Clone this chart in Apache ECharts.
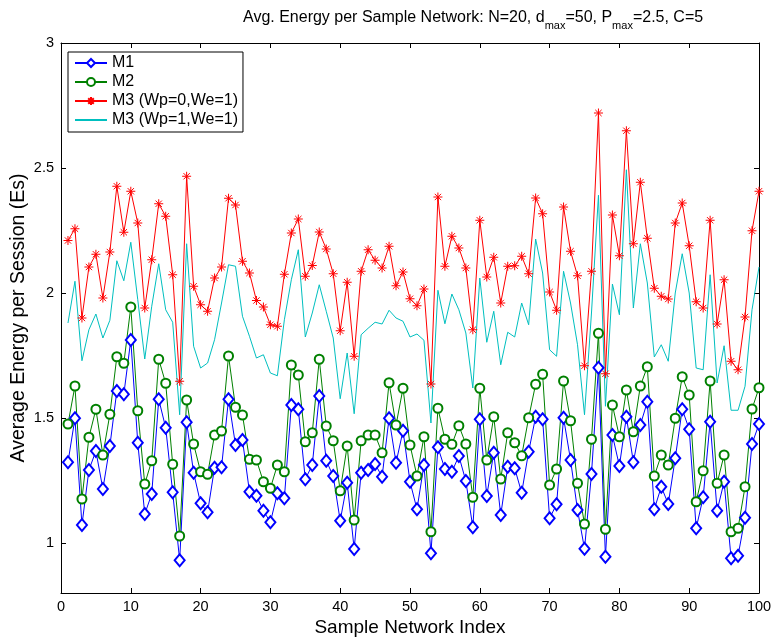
<!DOCTYPE html>
<html>
<head>
<meta charset="utf-8">
<script src="https://cdn.jsdelivr.net/npm/echarts@6/dist/echarts.min.js"></script>
<style>html,body{margin:0;padding:0;background:#fff}#c{width:774px;height:640px}</style>
</head>
<body>
<div id="c"></div>
<script>
var xIndex = [];
for (var k = 1; k <= 100; k++) xIndex.push(k);

var m1 = [1.323,1.499,1.072,1.292,1.368,1.216,1.388,1.608,1.595,1.812,
1.401,1.116,1.196,1.575,1.461,1.203,0.931,1.483,1.281,1.159,
1.123,1.301,1.303,1.575,1.392,1.412,1.205,1.189,1.129,1.083,
1.199,1.179,1.552,1.535,1.255,1.312,1.588,1.329,1.268,1.089,
1.241,0.976,1.281,1.292,1.316,1.265,1.499,1.321,1.449,1.245,
1.135,1.312,0.959,1.383,1.296,1.285,1.348,1.248,1.063,1.495,
1.188,1.361,1.112,1.305,1.299,1.201,1.365,1.505,1.495,1.099,
1.155,1.501,1.332,1.132,0.977,1.276,1.701,0.945,1.432,1.308,
1.505,1.323,1.472,1.565,1.135,1.225,1.156,1.339,1.535,1.455,
1.059,1.183,1.485,1.129,1.245,0.939,0.949,1.101,1.396,1.476];

var m2 = [1.476,1.628,1.176,1.423,1.535,1.352,1.515,1.745,1.719,1.944,
1.529,1.236,1.329,1.735,1.639,1.315,1.028,1.572,1.396,1.285,
1.275,1.432,1.448,1.748,1.543,1.512,1.335,1.332,1.245,1.219,
1.312,1.285,1.712,1.672,1.405,1.441,1.735,1.468,1.409,1.209,
1.388,1.092,1.409,1.432,1.432,1.361,1.641,1.472,1.619,1.392,
1.268,1.425,1.045,1.539,1.415,1.395,1.469,1.396,1.183,1.619,
1.332,1.505,1.256,1.441,1.401,1.349,1.501,1.635,1.675,1.232,
1.296,1.648,1.489,1.239,1.076,1.415,1.839,1.055,1.552,1.425,
1.612,1.445,1.628,1.705,1.268,1.352,1.312,1.499,1.665,1.592,
1.165,1.289,1.648,1.239,1.352,1.045,1.059,1.225,1.536,1.621];

var m3a = [2.21,2.257,1.90,2.104,2.155,1.98,2.164,2.427,2.243,2.407,
2.28,1.94,2.133,2.357,2.307,2.073,1.647,2.467,2.027,1.953,
1.927,2.06,2.104,2.379,2.352,2.127,2.08,1.97,1.944,1.873,
1.867,2.075,2.24,2.296,2.067,2.11,2.244,2.176,2.077,1.849,
2.043,1.747,2.087,2.173,2.131,2.10,2.187,2.029,2.084,1.977,
1.949,2.016,1.636,2.384,2.107,2.227,2.18,2.10,1.853,2.291,
2.064,2.143,1.96,2.107,2.109,2.147,2.077,2.38,2.317,2.004,
1.931,2.344,2.167,2.069,1.709,2.087,2.72,1.677,2.312,2.149,
2.649,2.197,2.443,2.219,2.019,1.987,1.976,2.28,2.36,2.189,
1.965,1.94,2.291,1.876,2.053,1.727,1.693,1.904,2.249,2.407];

var m3b = [1.88,2.047,1.729,1.853,1.916,1.82,1.891,2.129,2.049,2.203,
1.973,1.736,1.947,2.117,1.933,1.883,1.513,2.197,1.787,1.70,
1.72,1.813,1.96,2.113,2.107,1.907,1.827,1.74,1.753,1.68,
1.669,1.893,2.053,2.173,1.824,1.92,2.033,1.927,1.82,1.577,
1.76,1.517,1.833,1.859,1.883,1.876,1.931,1.90,1.887,1.824,
1.836,1.811,1.48,2.011,1.877,1.996,1.933,1.84,1.62,2.06,
1.803,1.927,1.713,1.843,1.824,1.96,1.873,2.216,2.08,1.773,
1.747,2.087,1.96,1.793,1.513,1.92,2.391,1.547,2.036,1.913,
2.493,1.94,2.197,2.04,1.744,1.793,1.727,2.0,2.157,2.0,
1.70,1.693,2.073,1.64,1.789,1.531,1.531,1.627,1.933,2.104];

var yTicks = [1, 1.5, 2, 2.5, 3];
var seriesNames = ['M1', 'M2', 'M3 (Wp=0,We=1)', 'M3 (Wp=1,We=1)'];

function pairs(arr) { return arr.map(function (v, i) { return [xIndex[i], v]; }); }

var FONT = 'Liberation Sans, Arial, Helvetica, sans-serif';
var star = 'path://M10,0L10,20M0,10L20,10M3,3L17,17M17,3L3,17';

var chart = echarts.init(document.getElementById('c'), null, {renderer: 'canvas'});
chart.setOption({
  animation: false,
  backgroundColor: '#fff',
  title: {
    text: '{n|Avg. Energy per Sample Network: N=20, d}{s|max}{n|=50, P}{s|max}{n|=2.5, C=5}',
    left: 238, top: 5,
    textStyle: {
      fontFamily: FONT, fontSize: 16, fontWeight: 'normal', color: '#000',
      rich: {
        n: {fontFamily: FONT, fontSize: 16, color: '#000', verticalAlign: 'top', lineHeight: 20},
        s: {fontFamily: FONT, fontSize: 11, color: '#000', verticalAlign: 'top', padding: [10, 0, 0, 0], lineHeight: 20}
      }
    }
  },
  grid: {left: 61, right: 15, top: 43, bottom: 47, show: false, containLabel: false, outerBoundsMode: 'none'},
  legend: {
    orient: 'vertical', left: 68, top: 52,
    data: [
      {name: seriesNames[0]},
      {name: seriesNames[1]},
      {name: seriesNames[2]},
      {name: seriesNames[3], itemStyle: {opacity: 0}}
    ],
    itemWidth: 32, itemHeight: 10, itemGap: 3,
    padding: [3, 5, 4, 6],
    borderColor: '#000', borderWidth: 1, backgroundColor: '#fff',
    textStyle: {fontFamily: FONT, fontSize: 16, lineHeight: 16, color: '#000'},
    inactiveColor: '#000'
  },
  xAxis: [{
    type: 'value', min: 0, max: 100, interval: 10,
    name: 'Sample Network Index', nameLocation: 'middle', nameGap: 25, nameMoveOverlap: false,
    nameTextStyle: {fontFamily: FONT, fontSize: 19, color: '#000'},
    axisLine: {show: true, onZero: false, lineStyle: {color: '#000', width: 1}},
    axisTick: {show: true, inside: true, length: 5, lineStyle: {color: '#000'}},
    axisLabel: {fontFamily: FONT, fontSize: 14.5, color: '#000', margin: 6},
    splitLine: {show: false}
  }, {
    type: 'value', min: 0, max: 100, interval: 10, position: 'top',
    axisLine: {show: true, onZero: false, lineStyle: {color: '#000', width: 1}},
    axisTick: {show: true, inside: true, length: 5, lineStyle: {color: '#000'}},
    axisLabel: {show: false}, splitLine: {show: false}
  }],
  yAxis: [{
    type: 'value', min: 0.8, max: 3,
    name: 'Average Energy per Session (Es)', nameLocation: 'middle', nameGap: 32, nameMoveOverlap: false,
    nameTextStyle: {fontFamily: FONT, fontSize: 19.5, color: '#000'},
    axisLine: {show: true, onZero: false, lineStyle: {color: '#000', width: 1}},
    axisTick: {show: true, inside: true, length: 5, customValues: yTicks, lineStyle: {color: '#000'}},
    axisLabel: {fontFamily: FONT, fontSize: 14.5, color: '#000', margin: 7, customValues: yTicks,
      formatter: function (v) { return String(v); }},
    splitLine: {show: false}
  }, {
    type: 'value', min: 0.8, max: 3, position: 'right',
    axisLine: {show: true, onZero: false, lineStyle: {color: '#000', width: 1}},
    axisTick: {show: true, inside: true, length: 5, customValues: yTicks, lineStyle: {color: '#000'}},
    axisLabel: {show: false, customValues: yTicks}, splitLine: {show: false}
  }],
  series: [{
    name: seriesNames[0], type: 'line', data: pairs(m1),
    symbol: 'emptyDiamond', symbolSize: [10, 12], showAllSymbol: true,
    lineStyle: {color: '#0000ff', width: 1},
    itemStyle: {color: '#0000ff', borderColor: '#0000ff', borderWidth: 0.9}
  }, {
    name: seriesNames[1], type: 'line', data: pairs(m2),
    symbol: 'emptyCircle', symbolSize: 9, showAllSymbol: true,
    lineStyle: {color: '#008000', width: 1},
    itemStyle: {color: '#008000', borderColor: '#008000', borderWidth: 0.9}
  }, {
    name: seriesNames[2], type: 'line', data: pairs(m3a),
    symbol: star, symbolSize: 9, showAllSymbol: true,
    lineStyle: {color: '#ff0000', width: 1},
    itemStyle: {color: '#ff0000', borderColor: '#ff0000', borderWidth: 1}
  }, {
    name: seriesNames[3], type: 'line', data: pairs(m3b),
    symbol: 'none',
    lineStyle: {color: '#00bfbf', width: 1},
    itemStyle: {color: '#00bfbf'}
  }]
});
</script>
</body>
</html>
